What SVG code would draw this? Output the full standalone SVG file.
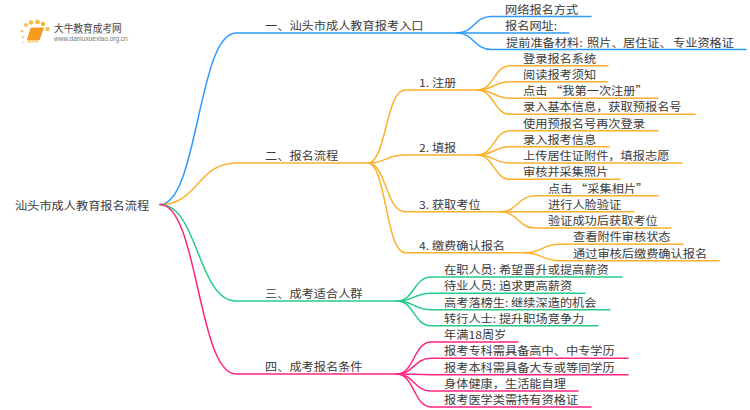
<svg xmlns="http://www.w3.org/2000/svg" width="750" height="410" viewBox="0 0 750 410">
<defs><linearGradient id="fade"><stop offset="0" stop-color="#cccccc" stop-opacity="0"/><stop offset="0.4" stop-color="#cccccc"/><stop offset="1" stop-color="#cccccc" stop-opacity="0"/></linearGradient></defs>
<style>
text{font-family:"Noto Sans CJK SC","Liberation Sans",sans-serif;font-size:10.8px;fill:#3a3a3a}
path{fill:none;stroke-width:1.5;stroke-linecap:round}
.b{stroke:#2f9bff}.o{stroke:#fbb12c}.g{stroke:#25cc88}.p{stroke:#ff2583}
</style>
<rect width="750" height="410" fill="#ffffff"/>
<g id="logo">
<circle cx="22" cy="31" r="1.6" fill="#fbc96a"/><circle cx="26" cy="25" r="2" fill="#fbc04e"/><circle cx="31" cy="22.500" r="2.200" fill="#fbb732"/><circle cx="37.500" cy="22" r="2.300" fill="#fbb732"/><circle cx="43" cy="24" r="2.200" fill="#fbb732"/><circle cx="47.500" cy="29" r="2.300" fill="#fbc04e"/><circle cx="23" cy="37" r="1.300" fill="#fbd590"/><circle cx="23.500" cy="42.500" r="1" fill="#fbdca6"/>
<polygon points="31,28 43.500,28 39,40 27.500,40" fill="#f59a1e" stroke="#f59a1e" stroke-width="1" stroke-linejoin="round"/><polygon points="27.500,40 38.500,40 38,42.500 27,42.500" fill="#fcd38c"/>
<rect x="54" y="33" width="80" height="1" fill="url(#fade)"/>
<text transform="matrix(1 0 0 1 54 32)" style="font-size:9.700px;fill:#444">大牛教育成考网</text>
<text x="54" y="41" style="font-family:'Liberation Sans',sans-serif;font-size:6.500px;fill:#777">www.daniuxuexiao.org.cn</text>
</g>
<g id="connectors">
<path class="b" d="M160 204.500C198 204.500 198 33 236 33H457"/>
<path class="o" d="M160 204.500C198 204.500 198 163 236 163H368"/>
<path class="g" d="M160 204.500C198 204.500 198 301 236 301H397"/>
<path class="p" d="M160 204.500C198 204.500 198 374 236 374H397"/>
<path class="b" d="M457 33C474 33 474 16.500 491 16.500H591"/>
<path class="b" d="M457 33H569"/>
<path class="b" d="M457 33C474 33 474 49.500 491 49.500H746"/>
<path class="o" d="M368 163C386 163 386 90 405 90H477"/>
<path class="o" d="M368 163C386 163 386 155 405 155H477"/>
<path class="o" d="M368 163C386 163 386 211.700 405 211.700H500"/>
<path class="o" d="M368 163C386 163 386 252.700 405 252.700H525"/>
<path class="o" d="M477 90C494 90 494 65.700 510 65.700H608"/>
<path class="o" d="M477 90C494 90 494 81.700 510 81.700H607"/>
<path class="o" d="M477 90C494 90 494 98.300 510 98.300H658"/>
<path class="o" d="M477 90C494 90 494 114.300 510 114.300H695"/>
<path class="o" d="M477 155C494 155 494 130.700 510 130.700H658"/>
<path class="o" d="M477 155C494 155 494 146.700 510 146.700H609"/>
<path class="o" d="M477 155C494 155 494 163 510 163H682"/>
<path class="o" d="M477 155C494 155 494 179.300 510 179.300H620"/>
<path class="o" d="M500 211.700C518 211.700 518 195.700 535 195.700H658"/>
<path class="o" d="M500 211.700H634"/>
<path class="o" d="M500 211.700C518 211.700 518 228 535 228H671"/>
<path class="o" d="M525 252.700C542 252.700 542 244.300 560 244.300H683"/>
<path class="o" d="M525 252.700C542 252.700 542 260.700 560 260.700H719"/>
<path class="g" d="M397 301C414 301 414 277 431 277H622"/>
<path class="g" d="M397 301C414 301 414 293.300 431 293.300H585"/>
<path class="g" d="M397 301C414 301 414 309.700 431 309.700H610"/>
<path class="g" d="M397 301C414 301 414 325.700 431 325.700H598"/>
<path class="p" d="M397 374C414 374 414 342 431 342H518"/>
<path class="p" d="M397 374C414 374 414 358.300 431 358.300H628"/>
<path class="p" d="M397 374C414 374 414 374.700 431 374.700H628"/>
<path class="p" d="M397 374C414 374 414 391 431 391H578"/>
<path class="p" d="M397 374C414 374 414 407 431 407H591"/>
</g>
<g id="root"><text transform="matrix(1.13 0 0 1 15 209.500)">汕头市成人教育报名流程</text></g>
<g id="b1"><text transform="matrix(1.13 0 0 1 265 30)">一、汕头市成人教育报考入口</text></g>
<g id="b2"><text transform="matrix(1.13 0 0 1 265 160)">二、报名流程</text></g>
<g id="b3"><text transform="matrix(1.13 0 0 1 265 298)">三、成考适合人群</text></g>
<g id="b4"><text transform="matrix(1.13 0 0 1 265 371)">四、成考报名条件</text></g>
<g id="n1"><text transform="matrix(1.13 0 0 1 505 13.500)">网络报名方式</text></g>
<g id="n2"><text transform="matrix(1.13 0 0 1 505 30)">报名网址:</text></g>
<g id="n3"><text transform="matrix(1.13 0 0 1 506 46.500)">提前准备材料: <tspan x="71.700">照片、</tspan> <tspan x="103.500">居住证、</tspan> <tspan x="147.800">专业资格证</tspan></text></g>
<g id="s1"><text transform="matrix(1.13 0 0 1 419 87)">1. 注册</text></g>
<g id="s2"><text transform="matrix(1.13 0 0 1 419 152)">2. 填报</text></g>
<g id="s3"><text transform="matrix(1.13 0 0 1 419 208.700)">3. 获取考位</text></g>
<g id="s4"><text transform="matrix(1.13 0 0 1 419 249.700)">4. 缴费确认报名</text></g>
<g id="t1"><text transform="matrix(1.13 0 0 1 523 62.700)">登录报名系统</text></g>
<g id="t2"><text transform="matrix(1.13 0 0 1 523 78.700)">阅读报考须知</text></g>
<g id="t3"><text transform="matrix(1.13 0 0 1 523 95.300)">点击 “我第一次注册”</text></g>
<g id="t4"><text transform="matrix(1.13 0 0 1 523 111.300)">录入基本信息，获取预报名号</text></g>
<g id="t5"><text transform="matrix(1.13 0 0 1 523 127.700)">使用预报名号再次登录</text></g>
<g id="t6"><text transform="matrix(1.13 0 0 1 523 143.700)">录入报考信息</text></g>
<g id="t7"><text transform="matrix(1.13 0 0 1 523 160)">上传居住证附件，填报志愿</text></g>
<g id="t8"><text transform="matrix(1.13 0 0 1 523 176.300)">审核并采集照片</text></g>
<g id="t9"><text transform="matrix(1.13 0 0 1 548 192.700)">点击 “采集相片”</text></g>
<g id="t10"><text transform="matrix(1.13 0 0 1 548 208.700)">进行人脸验证</text></g>
<g id="t11"><text transform="matrix(1.13 0 0 1 548 225)">验证成功后获取考位</text></g>
<g id="t12"><text transform="matrix(1.13 0 0 1 573 241.300)">查看附件审核状态</text></g>
<g id="t13"><text transform="matrix(1.13 0 0 1 573 257.700)">通过审核后缴费确认报名</text></g>
<g id="g1"><text transform="matrix(1.13 0 0 1 444 274)">在职人员: 希望晋升或提高薪资</text></g>
<g id="g2"><text transform="matrix(1.13 0 0 1 444 290.300)">待业人员: 追求更高薪资</text></g>
<g id="g3"><text transform="matrix(1.13 0 0 1 444 306.700)">高考落榜生: 继续深造的机会</text></g>
<g id="g4"><text transform="matrix(1.13 0 0 1 444 322.700)">转行人士: 提升职场竞争力</text></g>
<g id="p1"><text transform="matrix(1.13 0 0 1 444 339)">年满18周岁</text></g>
<g id="p2"><text transform="matrix(1.13 0 0 1 444 355.300)">报考专科需具备高中、中专学历</text></g>
<g id="p3"><text transform="matrix(1.13 0 0 1 444 371.700)">报考本科需具备大专或等同学历</text></g>
<g id="p4"><text transform="matrix(1.13 0 0 1 444 388)">身体健康，生活能自理</text></g>
<g id="p5"><text transform="matrix(1.13 0 0 1 444 404)">报考医学类需持有资格证</text></g>
</svg>
